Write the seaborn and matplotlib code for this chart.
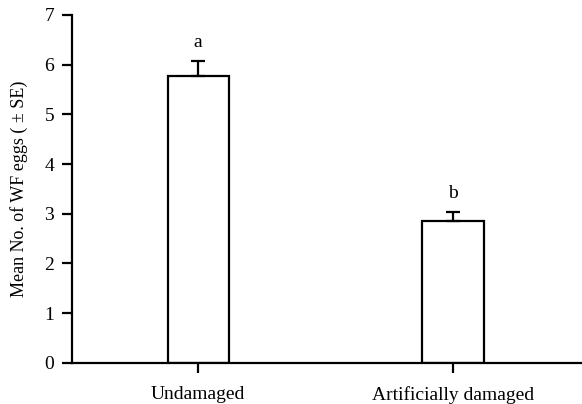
import matplotlib
matplotlib.use("Agg")
import matplotlib.pyplot as plt
import seaborn as sns
import pandas as pd

# data
treatments = ['Undamaged', 'Artificially damaged']
mean_eggs = [5.77, 2.86]
se_eggs = [0.31, 0.18]
letters = ['a', 'b']

df = pd.DataFrame({'treatment': treatments, 'eggs': mean_eggs, 'se': se_eggs})

sns.set_style('ticks', {'axes.edgecolor': 'black', 'text.color': 'black',
                        'xtick.color': 'black', 'ytick.color': 'black',
                        'axes.labelcolor': 'black'})
plt.rcParams['font.family'] = ['Liberation Serif', 'DejaVu Serif']

fig = plt.figure(figsize=(5.82, 4.04), dpi=100)
ax = fig.add_axes([0.124, 0.102, 0.876, 0.861])

sns.barplot(data=df, x='treatment', y='eggs', color='white', edgecolor='black',
            linewidth=1.6, width=0.24, errorbar=None, ax=ax)

# upper error bars only
ax.errorbar(range(len(treatments)), df['eggs'], yerr=[[0] * len(se_eggs), df['se']],
            fmt='none', ecolor='black', elinewidth=1.6, capsize=5, capthick=1.6)

# significance letters
for i, (m, s, l) in enumerate(zip(mean_eggs, se_eggs, letters)):
    ax.text(i, m + s + 0.2, l, ha='center', va='bottom', fontsize=14)

ax.set_ylim(0, 7)
ax.set_xlim(-0.494, 1.506)
ax.set_yticks(range(0, 8))
ax.set_xlabel('')
ax.set_ylabel('Mean No. of WF eggs ( ± SE)', fontsize=13, labelpad=12)
ax.tick_params(axis='both', direction='out', width=1.6, length=7, labelsize=14)
ax.tick_params(axis='x', pad=10)
ax.tick_params(axis='y', pad=6)
for side in ['top', 'right']:
    ax.spines[side].set_visible(False)
for side in ['left', 'bottom']:
    ax.spines[side].set_linewidth(1.6)

fig.savefig('out.png', dpi=100)
